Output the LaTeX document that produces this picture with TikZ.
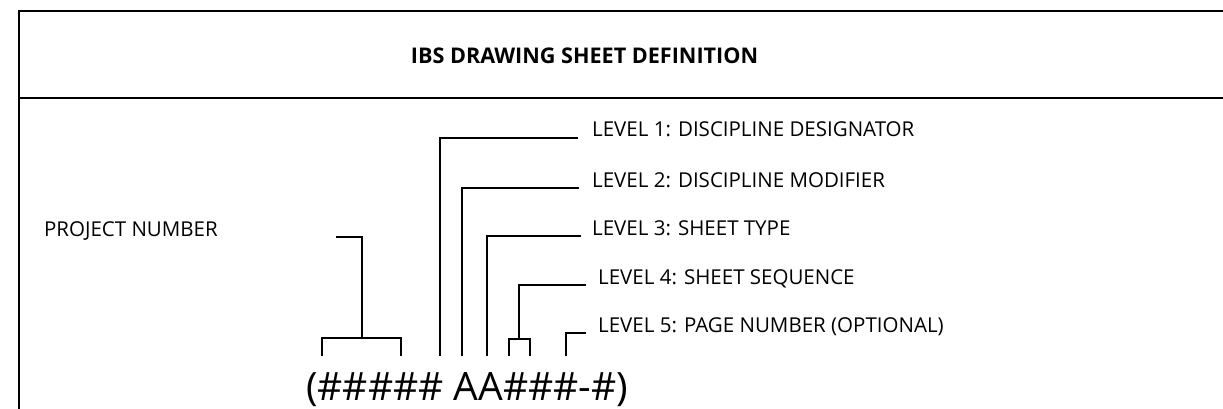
\documentclass[tikz,border=0pt]{standalone}
\usepackage{fontspec}
\setmainfont{Open Sans}
\begin{document}
\begin{tikzpicture}[x=1pt,y=-1pt,
  frame/.style={line width=2pt},
  lead/.style={line width=1.8pt},
  lbl/.style={anchor=base west, inner sep=0pt, font=\fontsize{20.5}{24}\selectfont},
  codefont/.style={anchor=base west, inner sep=0pt, font=\fontsize{39}{44}\selectfont}]
\useasboundingbox (0,0) rectangle (1223,409);
% frame
\coordinate (tl) at (19,11);
\coordinate (tr) at (1223,11);
\coordinate (bl) at (19,409);
\coordinate (ml) at (19,98.5);
\coordinate (mr) at (1223,98.5);
\draw[frame] (tr) -- (tl) -- (bl);
\draw[frame] (ml) -- (mr);
% title
\node[anchor=base, inner sep=0pt, font=\bfseries\fontsize{21.6}{26}\selectfont] (title) at (584.5,63.5) {IBS DRAWING SHEET DEFINITION};
% labels
\node[lbl, anchor=base east] (pn) at (218,236) {PROJECT NUMBER};
\node[lbl] (l1) at (592,137) {LEVEL 1: DISCIPLINE DESIGNATOR};
\node[lbl] (l2) at (592,187) {LEVEL 2: DISCIPLINE MODIFIER};
\node[lbl] (l3) at (592,235) {LEVEL 3: SHEET TYPE};
\node[lbl] (l4) at (598,284) {LEVEL 4: SHEET SEQUENCE};
\node[lbl] (l5) at (598,332) {LEVEL 5: PAGE NUMBER (OPTIONAL)};
% code
\node[codefont] (code) at (306,400) {(\#\#\#\#\# AA\#\#\#-\#)};
% leader end points
\coordinate (p1) at (336,237);
\coordinate (pa) at (322,356);
\coordinate (pb) at (401,356);
\coordinate (e1) at (578,138);
\coordinate (e2) at (579,188);
\coordinate (e3) at (581,236);
\coordinate (e4) at (586,285);
\coordinate (e5) at (586,333);
\coordinate (s4a) at (509,356);
\coordinate (s4b) at (530,356);
% project number bracket
\draw[lead] (pa) |- (401,338) -- (pb);
\draw[lead] (p1) -| (362,338);
% level leaders
\draw[lead] (440,356) |- (e1);
\draw[lead] (462,356) |- (e2);
\draw[lead] (487,356) |- (e3);
\draw[lead] (s4a) |- (530,339) -- (s4b);
\draw[lead] (519,339) |- (e4);
\draw[lead] (566,356) |- (e5);
\end{tikzpicture}
\end{document}
